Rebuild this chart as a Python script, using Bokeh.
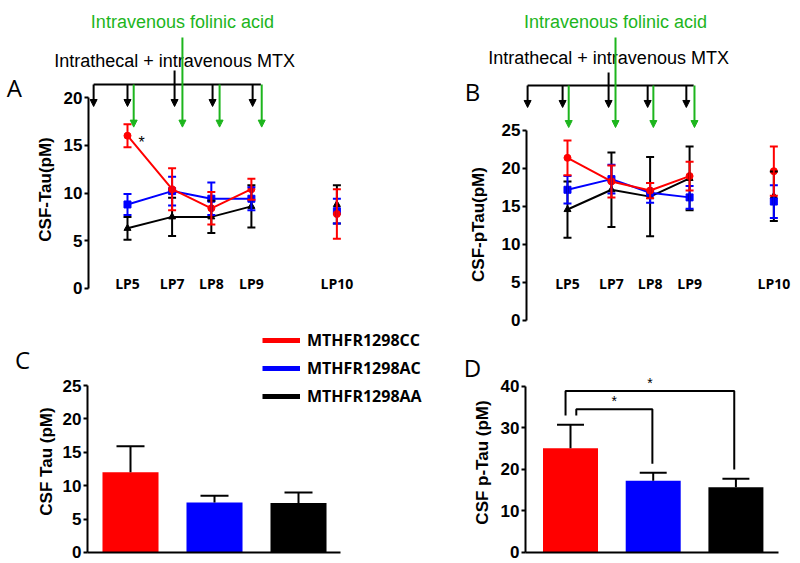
import math
from bokeh.plotting import figure
from bokeh.layouts import row, column
from bokeh.models import (ColumnDataSource, Range1d, FixedTicker, Label, Arrow, LinearAxis,
                          NormalHead, Whisker, TeeHead, Legend, LegendItem)
from bokeh.core.properties import value
from bokeh.embed import file_html
from bokeh.resources import INLINE

# ---------------- data ----------------
visits = ["LP5", "LP7", "LP8", "LP9", "LP10"]
visit_x = [1.0, 2.08, 3.03, 4.0, 6.07]
groups = ["MTHFR1298CC", "MTHFR1298AC", "MTHFR1298AA"]

# Panel A: CSF-Tau (pM), mean and error per visit
tau_cc = [16.0, 10.4, 8.4, 10.4, 7.8]
tau_cc_err = [1.2, 2.2, 1.7, 1.1, 2.6]
tau_ac = [8.8, 10.2, 9.4, 9.4, 8.1]
tau_ac_err = [1.1, 1.5, 1.7, 1.2, 1.3]
tau_aa = [6.3, 7.5, 7.5, 8.6, 8.8]
tau_aa_err = [1.2, 2.0, 1.7, 2.2, 2.0]

# Panel B: CSF-pTau (pM)
ptau_cc = [21.4, 18.3, 17.1, 19.0, 19.65]
ptau_cc_err = [2.3, 2.1, 1.0, 1.9, 3.25]
ptau_ac = [17.2, 18.6, 16.8, 16.2, 15.65]
ptau_ac_err = [1.8, 1.9, 1.3, 1.5, 2.15]
ptau_aa = [14.6, 17.2, 16.3, 18.7, 16.35]
ptau_aa_err = [3.7, 4.9, 5.2, 4.2, 3.25]

# Panels C / D: pooled means with SEM
group_x = [1, 2, 3]
tau_mean = [12.0, 7.5, 7.4]
tau_sem = [3.9, 1.0, 1.6]
ptau_mean = [25.1, 17.3, 15.7]
ptau_sem = [5.7, 1.9, 2.1]

# Significance brackets in D (CC vs AC, CC vs AA)
sig_x0 = [1.07, 0.94]
sig_x1 = [1.99, 2.98]
sig_top = [34.5, 38.9]
sig_left_end = [33.0, 33.0]
sig_right_end = [21.4, 20.0]

# Treatment schedule (arrows) for A and B
mtx_x_A = [0.18, 1.0, 2.14, 3.06, 4.03]
folinic_x_A = [1.15, 2.33, 3.23, 4.25]
mtx_x_B = [0.02, 0.88, 2.01, 2.97, 3.92]
folinic_x_B = [1.03, 2.18, 3.11, 4.12]

# ---------------- style ----------------
RED, BLUE, BLACK, GREEN = "#ff0000", "#0000ff", "#000000", "#1db51d"
colors = [RED, BLUE, BLACK]
TICK_FONT = "Liberation Sans"
CAL_FONT = "Open Sans"
NAN = float("nan")


def base_fig(width, height, xr, yr, y_at, yticks, ybounds, x_at=None, xbounds=None):
    p = figure(width=width, height=height, x_range=Range1d(*xr), y_range=Range1d(*yr),
               output_backend="svg", toolbar_location=None,
               x_axis_location=None, y_axis_location=None,
               min_border_left=0, min_border_right=0, min_border_top=0, min_border_bottom=0)
    p.outline_line_color = None
    p.background_fill_color = "white"
    p.border_fill_color = "white"
    p.grid.visible = False
    ya = LinearAxis(fixed_location=y_at, ticker=FixedTicker(ticks=yticks), bounds=ybounds)
    ya.axis_line_width = 2
    ya.major_tick_line_width = 2
    ya.major_tick_out = 4
    ya.major_tick_in = 0
    ya.minor_tick_line_color = None
    ya.major_label_standoff = 2
    ya.major_label_text_font = TICK_FONT
    ya.major_label_text_font_style = "bold"
    ya.major_label_text_font_size = "17px"
    ya.major_label_text_color = "black"
    p.add_layout(ya, "left")
    if x_at is not None:
        xa = LinearAxis(fixed_location=x_at, ticker=FixedTicker(ticks=[]), bounds=xbounds)
        xa.axis_line_width = 2
        xa.major_tick_out = 0
        xa.minor_tick_out = 0
        xa.major_tick_line_color = None
        xa.minor_tick_line_color = None
        xa.major_label_text_color = None
        xa.major_label_standoff = 0
        p.add_layout(xa, "below")
    return p


def add_label(p, x, y, text, size, bold=False, angle=0.0, font=CAL_FONT, color="black"):
    p.add_layout(Label(x=x, y=y, text=text, angle=angle, text_align="center",
                       text_baseline="middle", text_font=font,
                       text_font_size=size, text_font_style="bold" if bold else "normal",
                       text_color=color))


def time_panel(p, series, errs, lp_y):
    markers = ["circle", "square", "triangle"]
    sizes = [7, 7, 7]
    order = [2, 1, 0]
    for i in order:
        m, e, c = series[i], errs[i], colors[i]
        src = ColumnDataSource(dict(x=visit_x, y=m,
                                    lo=[a - b for a, b in zip(m, e)],
                                    hi=[a + b for a, b in zip(m, e)]))
        p.add_layout(Whisker(source=src, base="x", lower="lo", upper="hi",
                             line_color=c, line_width=2, level="glyph",
                             upper_head=TeeHead(size=8, line_color=c, line_width=2),
                             lower_head=TeeHead(size=8, line_color=c, line_width=2)))
        p.line(visit_x[:4], m[:4], line_color=c, line_width=2)
        p.scatter("x", "y", source=src, marker=markers[i], size=sizes[i],
                  fill_color=c, line_color=c)
    p.text(x=visit_x, y=[lp_y] * len(visit_x), text=visits, text_align="center",
           text_baseline="middle", text_font=value(CAL_FONT), text_font_style="bold",
           text_font_size="14px", text_color="black")


def schedule(p, mtx_x, fol_x, bar_y, mtx_tip, mtx_riser_top, fol_tip, fol_top, mid_m, mid_f):
    p.segment(x0=[mtx_x[0]], y0=[bar_y], x1=[fol_x[-1] - 0.02], y1=[bar_y],
              line_color=BLACK, line_width=2)
    p.segment(x0=[mtx_x[mid_m]], y0=[bar_y], x1=[mtx_x[mid_m]], y1=[mtx_riser_top],
              line_color=BLACK, line_width=2)
    msrc = ColumnDataSource(dict(x=mtx_x, y0=[bar_y] * len(mtx_x), y1=[mtx_tip] * len(mtx_x)))
    p.add_layout(Arrow(source=msrc, x_start="x", y_start="y0", x_end="x", y_end="y1",
                       line_color=BLACK, line_width=2,
                       end=NormalHead(size=7, fill_color=BLACK, line_color=BLACK, line_width=1)))
    starts = [fol_top if i == mid_f else bar_y for i in range(len(fol_x))]
    fsrc = ColumnDataSource(dict(x=fol_x, y0=starts, y1=[fol_tip] * len(fol_x)))
    p.add_layout(Arrow(source=fsrc, x_start="x", y_start="y0", x_end="x", y_end="y1",
                       line_color=GREEN, line_width=2,
                       end=NormalHead(size=7, fill_color=GREEN, line_color=GREEN, line_width=1)))


def schedule_text(p, fx, fy, mx, my):
    p.text(x=[fx], y=[fy], text=["Intravenous folinic acid"], text_align="center",
           text_baseline="middle", text_font=value(TICK_FONT), text_font_size="18px",
           text_color=GREEN)
    p.text(x=[mx], y=[my], text=["Intrathecal + intravenous MTX"], text_align="center",
           text_baseline="middle", text_font=value(TICK_FONT), text_font_size="18px",
           text_color=BLACK)


# ---------------- Panel A ----------------
pA = base_fig(454, 303, (-2.075, 8.918), (-1.571, 30.16), 0.0557, [0, 5, 10, 15, 20], (0, 20))
schedule(pA, mtx_x_A, folinic_x_A, 21.36, 19.06, 22.83, 16.9, 26.28, 2, 1)
time_panel(pA, [tau_cc, tau_ac, tau_aa], [tau_cc_err, tau_ac_err, tau_aa_err], 0.52)
schedule_text(pA, folinic_x_A[1], 27.96, mtx_x_A[2], 23.87)
pA.text(x=[1.34], y=[15.3], text=["*"], text_align="center", text_baseline="middle",
        text_font=value(TICK_FONT), text_font_size="16px", text_color=BLACK)
add_label(pA, -1.74, 21.0, "A", "24px")
add_label(pA, -0.985, 10.37, "CSF-Tau(pM)", "17px", bold=True, angle=math.pi / 2, font=TICK_FONT)

# ---------------- Panel B ----------------
pB = base_fig(346, 333, (-1.776, 6.725), (-1.711, 42.105), -0.0074,
              [0, 5, 10, 15, 20, 25], (0, 25))
schedule(pB, mtx_x_B, folinic_x_B, 30.92, 28.03, 32.63, 25.39, 37.24, 2, 1)
time_panel(pB, [ptau_cc, ptau_ac, ptau_aa], [ptau_cc_err, ptau_ac_err, ptau_aa_err], 4.87)
schedule_text(pB, folinic_x_B[1], 39.34, mtx_x_B[2], 34.6)
add_label(pB, -1.334, 30.1, "B", "24px")
add_label(pB, -1.187, 12.63, "CSF-pTau(pM)", "17px", bold=True, angle=math.pi / 2, font=TICK_FONT)


def bar_panel(p, means, sems, width, cap_half):
    r = p.vbar(x=group_x, top=means, width=width, bottom=0, fill_color=colors, line_color=None)
    tops = [m + s for m, s in zip(means, sems)]
    p.segment(x0=group_x, y0=means, x1=group_x, y1=tops, line_color=BLACK, line_width=2)
    p.segment(x0=[x - cap_half for x in group_x], y0=tops,
              x1=[x + cap_half for x in group_x], y1=tops, line_color=BLACK, line_width=2)
    return r


# ---------------- Panel C ----------------
pC = base_fig(454, 260, (-0.5476, 4.857), (-1.647, 37.28), 0.488,
              [0, 5, 10, 15, 20, 25], (0, 25), x_at=0, xbounds=(0.488, 3.5))
bar_panel(pC, tau_mean, tau_sem, 0.667, 0.1667)
add_label(pC, -0.286, 28.9, "C", "24px")
add_label(pC, 0.0, 13.62, "CSF Tau (pM)", "17px", bold=True, angle=math.pi / 2, font=TICK_FONT)
items = []
for g, c in zip(groups, colors):
    r = pC.line(x=[NAN], y=[NAN], line_color=c, line_width=5)
    items.append(LegendItem(label=g, renderers=[r]))
leg = Legend(items=items, location=(262, 155), padding=0, margin=0, spacing=4,
             glyph_width=38, glyph_height=24, label_height=24, label_standoff=7,
             border_line_color=None, background_fill_alpha=0,
             label_text_font=CAL_FONT, label_text_font_style="bold",
             label_text_font_size="16px", label_text_color="black")
pC.add_layout(leg)

# ---------------- Panel D ----------------
pD = base_fig(346, 230, (-0.4027, 3.781), (-2.651, 52.77), 0.456,
              [0, 10, 20, 30, 40], (0, 40), x_at=0, xbounds=(0.456, 3.515))
bar_panel(pD, ptau_mean, ptau_sem, 0.665, 0.163)
bx = [[a, a, b, b] for a, b in zip(sig_x0, sig_x1)]
by = [[l, t, t, r] for l, t, r in zip(sig_left_end, sig_top, sig_right_end)]
pD.multi_line(xs=bx, ys=by, line_color=BLACK, line_width=2)
pD.text(x=[(a + b) / 2 for a, b in zip(sig_x0, sig_x1)], y=[t + 2.0 for t in sig_top],
        text=["*", "*"], text_align="center", text_baseline="middle",
        text_font=value(TICK_FONT), text_font_size="14px", text_color=BLACK)
add_label(pD, -0.185, 44.6, "D", "24px")
add_label(pD, -0.064, 21.69, "CSF p-Tau (pM)", "17px", bold=True, angle=math.pi / 2, font=TICK_FONT)

layout = row(column(pA, pC), column(pB, pD))
open("out.html", "w").write(file_html(layout, INLINE))
